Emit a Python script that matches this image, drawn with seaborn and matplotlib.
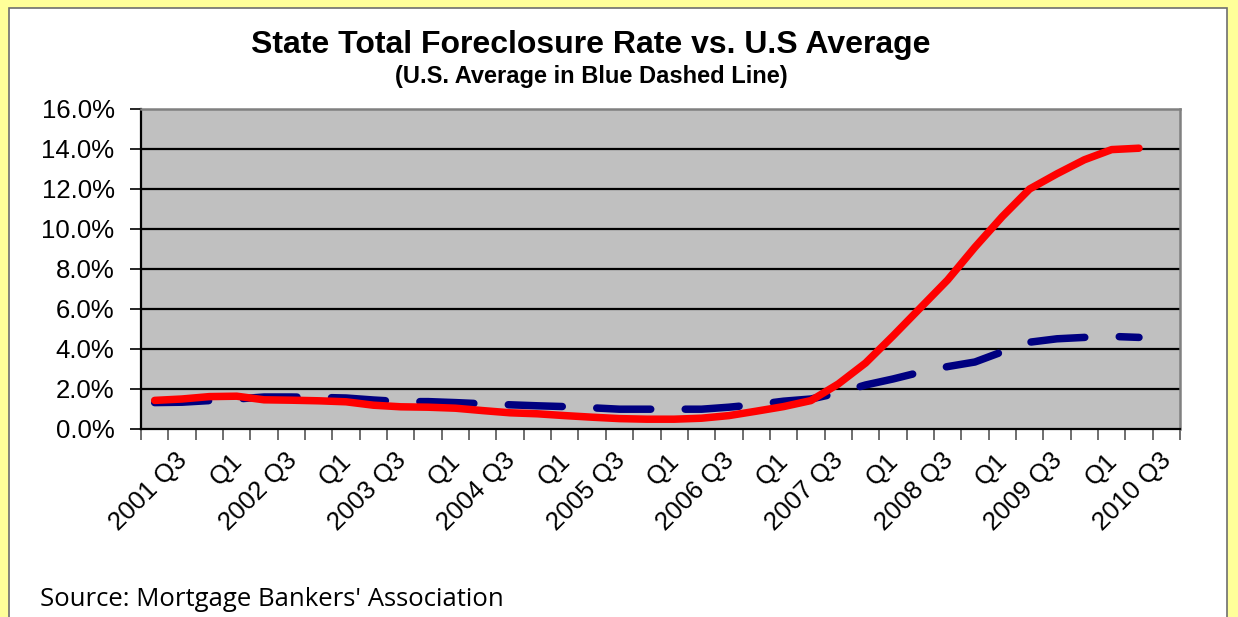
import matplotlib
matplotlib.use("Agg")
import matplotlib.pyplot as plt
import matplotlib.patches as mpatches
from matplotlib.transforms import ScaledTranslation
import seaborn as sns
import pandas as pd
import numpy as np

# ---- data (percent) ----
quarters = ["2001 Q2", "2001 Q3", "2001 Q4", "2002 Q1", "2002 Q2", "2002 Q3", "2002 Q4",
            "2003 Q1", "2003 Q2", "2003 Q3", "2003 Q4", "2004 Q1", "2004 Q2", "2004 Q3",
            "2004 Q4", "2005 Q1", "2005 Q2", "2005 Q3", "2005 Q4", "2006 Q1", "2006 Q2",
            "2006 Q3", "2006 Q4", "2007 Q1", "2007 Q2", "2007 Q3", "2007 Q4", "2008 Q1",
            "2008 Q2", "2008 Q3", "2008 Q4", "2009 Q1", "2009 Q2", "2009 Q3", "2009 Q4",
            "2010 Q1", "2010 Q2"]
state_rate = [1.43, 1.50, 1.62, 1.64, 1.46, 1.44, 1.41, 1.36, 1.19, 1.11, 1.09, 1.04,
              0.92, 0.81, 0.76, 0.67, 0.59, 0.52, 0.49, 0.49, 0.54, 0.67, 0.89, 1.12,
              1.42, 2.25, 3.30, 4.65, 6.05, 7.45, 9.09, 10.62, 12.0, 12.76, 13.46, 13.97, 14.04]
us_rate = [1.32, 1.34, 1.42, 1.50, 1.60, 1.60, 1.58, 1.55, 1.45, 1.37, 1.37, 1.32,
           1.26, 1.21, 1.16, 1.12, 1.06, 0.99, 0.99, 0.99, 0.99, 1.09, 1.22, 1.39,
           1.50, 1.80, 2.20, 2.50, 2.84, 3.12, 3.35, 3.86, 4.34, 4.51, 4.58, 4.63, 4.58]
axis_labels = ["2001 Q3", "Q1", "2002 Q3", "Q1", "2003 Q3", "Q1", "2004 Q3", "Q1",
               "2005 Q3", "Q1", "2006 Q3", "Q1", "2007 Q3", "Q1", "2008 Q3", "Q1",
               "2009 Q3", "Q1", "2010 Q3"]
n_categories = 38
y_ticks = [0, 2, 4, 6, 8, 10, 12, 14, 16]

df = pd.DataFrame({"idx": np.arange(len(quarters)), "quarter": quarters,
                   "state": state_rate, "us": us_rate})

W, H = 1238, 617
fig = plt.figure(figsize=(W / 100, H / 100), dpi=100)
fig.patch.set_facecolor("#FFFF99")
panel = mpatches.Rectangle((9 / W, -0.01), (1227 - 9) / W, 1.01 - 8 / H,
                           transform=fig.transFigure, facecolor="white",
                           edgecolor="#6E6E6E", linewidth=1.2, zorder=-5)
fig.patches.append(panel)

ax = fig.add_axes([141 / W, 1 - 429 / H, (1180 - 141) / W, (429 - 109) / H])
ax.set_zorder(2)
ax.set_facecolor("#C0C0C0")

sns.lineplot(data=df, x="idx", y="us", ax=ax, color="#000080", linewidth=5.4,
             zorder=3)
us_line = ax.lines[-1]
us_line.set_dashes([7.2, 4.6])
us_line.set_dash_capstyle("round")
sns.lineplot(data=df, x="idx", y="state", ax=ax, color="#FF0000", linewidth=5.4,
             zorder=4)
ax.lines[-1].set_solid_capstyle("round")
ax.lines[-1].set_solid_joinstyle("round")

ax.set_xlim(-0.5, n_categories - 0.5)
ax.set_ylim(0, 16)

for v in y_ticks[1:-1]:
    ax.axhline(v, color="black", linewidth=1.6, zorder=1)

ax.set_yticks(y_ticks)
ax.set_yticklabels([f"{v:.1f}%" for v in y_ticks], fontsize=18.5,
                   family=["Liberation Sans", "DejaVu Sans"])
ax.tick_params(axis="y", direction="out", length=8, width=1.2, color="black", pad=11)

ax.set_xticks(np.arange(n_categories + 1) - 0.5)
ax.set_xticklabels([])
ax.tick_params(axis="x", which="major", direction="out", length=8, width=1.2,
               color="#555555")
label_pos = np.arange(1, n_categories, 2)
ax.set_xticks(label_pos, minor=True)
ax.set_xticklabels(axis_labels, minor=True, rotation=45, ha="right",
                   rotation_mode="anchor", fontsize=18.5,
                   family=["Liberation Sans", "DejaVu Sans"])
ax.tick_params(axis="x", which="minor", length=0, pad=14)
shift = ScaledTranslation(-7 / 100, 0, fig.dpi_scale_trans)
for lbl in ax.get_xticklabels(minor=True):
    lbl.set_transform(lbl.get_transform() + shift)

ax.set_xlabel("")
ax.set_ylabel("")
for s in ["left", "bottom"]:
    ax.spines[s].set_color("black")
    ax.spines[s].set_linewidth(1.6)
for s in ["top", "right"]:
    ax.spines[s].set_color("#808080")
    ax.spines[s].set_linewidth(1.8)

fig.text(591 / W, 1 - 45 / H, "State Total Foreclosure Rate vs. U.S Average",
         ha="center", va="center", fontsize=23, fontweight="bold",
         family=["Liberation Sans", "DejaVu Sans"])
fig.text(591 / W, 1 - 77 / H, "(U.S. Average in Blue Dashed Line)",
         ha="center", va="center", fontsize=17, fontweight="bold",
         family=["Liberation Sans", "DejaVu Sans"])
fig.text(40 / W, 1 - 600 / H, "Source: Mortgage Bankers' Association",
         ha="left", va="center", fontsize=18.5, family=["Open Sans", "DejaVu Sans"])

fig.savefig("out.png", dpi=100, facecolor=fig.get_facecolor())
